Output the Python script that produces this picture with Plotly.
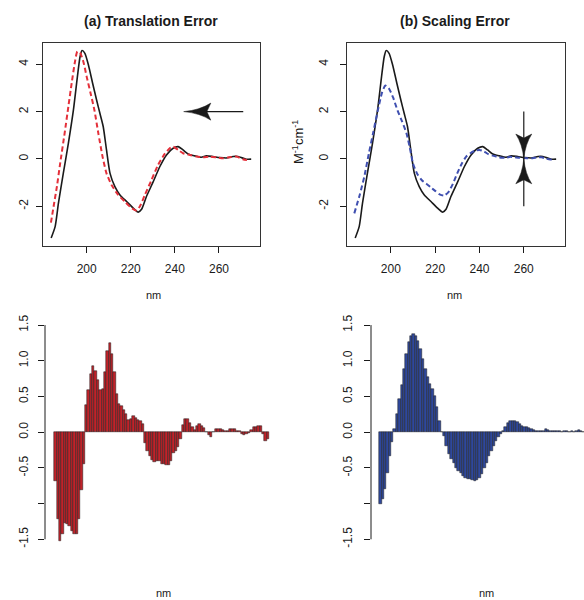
import plotly.graph_objects as go

# ---------------- data ----------------
black_nm = [183.9, 185.7, 187.2, 189.4, 191.7, 194.0, 195.8, 197.0, 197.9, 199.2, 200.8, 202.7,
            204.5, 206.0, 207.5, 209.0, 210.6, 212.8, 215.1, 218.1, 221.1, 223.4, 224.9, 227.1,
            230.2, 233.2, 236.2, 239.2, 241.5, 243.7, 246.0, 249.0, 252.0, 254.3, 257.3, 260.3,
            263.3, 266.4, 268.6, 272.4, 274.6]
black_val = [-3.34, -2.86, -1.87, -0.61, 0.66, 2.07, 3.48, 4.32, 4.58, 4.46, 3.97, 3.20,
             2.49, 1.93, 1.37, 0.38, -0.61, -1.17, -1.52, -1.80, -2.08, -2.25, -2.13, -1.59,
             -0.96, -0.32, 0.17, 0.45, 0.52, 0.38, 0.21, 0.13, 0.07, 0.13, 0.10, 0.06,
             0.04, 0.10, 0.10, -0.01, -0.01]

red_nm = [183.8, 185.0, 186.5, 188.0, 190.0, 191.7, 193.2, 194.7, 195.8, 197.0, 198.5, 200.0,
          201.8, 203.5, 205.3, 207.2, 209.0, 211.3, 214.3, 217.3, 220.4, 222.6, 224.1, 226.4,
          229.4, 232.4, 235.4, 237.7, 239.2, 241.5, 243.7, 246.8, 249.8, 252.8, 255.8, 258.8,
          261.8, 264.8, 267.8, 270.8, 273.8]
red_val = [-2.69, -2.01, -1.17, -0.18, 1.08, 2.21, 3.20, 4.11, 4.54, 4.49, 4.11, 3.48,
           2.77, 2.07, 1.08, 0.10, -0.61, -1.10, -1.52, -1.80, -2.08, -2.18, -2.01, -1.52,
           -0.89, -0.25, 0.21, 0.45, 0.52, 0.38, 0.24, 0.17, 0.10, 0.07, 0.10, 0.07,
           0.03, 0.07, 0.10, -0.01, -0.07]

blue_nm = [183.5, 186.0, 188.0, 190.0, 192.0, 194.0, 196.0, 197.5, 199.0, 201.0, 203.0, 205.0,
           207.0, 208.5, 210.0, 212.0, 214.0, 216.0, 218.0, 220.0, 222.0, 224.0, 226.0, 228.0,
           230.0, 232.0, 234.0, 236.0, 238.0, 240.0, 242.0, 244.0, 246.0, 248.0, 250.0, 252.0,
           254.0, 256.0, 258.0, 260.0, 262.0, 264.0, 266.0, 268.0, 270.0, 272.0, 274.0]
blue_val = [-2.30, -1.50, -0.75, 0.20, 1.10, 2.00, 2.80, 3.10, 3.00, 2.60, 2.05, 1.60,
            1.10, 0.50, -0.20, -0.65, -0.90, -1.05, -1.20, -1.35, -1.50, -1.55, -1.40, -1.05,
            -0.60, -0.20, 0.10, 0.25, 0.35, 0.38, 0.32, 0.20, 0.14, 0.10, 0.05, 0.05,
            0.09, 0.07, 0.05, 0.04, 0.03, 0.03, 0.06, 0.07, 0.01, -0.02, -0.01]

bar_nm = list(range(184, 275))
red_diff = [-0.68, -1.21, -1.53, -1.42, -1.27, -1.29, -1.31, -1.38, -1.43, -1.43, -1.21, -0.81, -0.45,
            0.38, 0.59, 0.81, 0.92, 0.86, 0.73, 0.59, 0.60, 0.84, 1.13, 1.25, 1.10, 0.84, 0.53,
            0.39, 0.36, 0.31, 0.25, 0.17, 0.19, 0.22, 0.20, 0.17, 0.15, 0.11,
            -0.15, -0.26, -0.34, -0.39, -0.42, -0.41, -0.41, -0.45, -0.45, -0.46, -0.46, -0.40,
            -0.29, -0.26, -0.21, -0.10,
            0.10, 0.18, 0.18, 0.13, 0.07, 0.03, 0.08, 0.12, 0.09, 0.06, 0.00, -0.04, -0.07,
            0.00, 0.05, 0.04, 0.05, 0.03, 0.01, 0.02, 0.04, 0.05, 0.04, 0.02, 0.01, -0.03,
            -0.04, -0.02, -0.01, 0.03, 0.07, 0.07, 0.08, 0.08, -0.02, -0.12, -0.10]
blue_diff = [-1.01, -0.94, -0.80, -0.57, -0.33, -0.14, 0.04, 0.25, 0.46, 0.66, 0.88, 1.09, 1.26,
             1.34, 1.38, 1.34, 1.28, 1.17, 1.02, 0.88, 0.77, 0.67, 0.60, 0.50, 0.35, 0.16, 0.00,
             -0.05, -0.19, -0.31, -0.38, -0.43, -0.50, -0.54, -0.57, -0.61, -0.64, -0.65, -0.66,
             -0.67, -0.68, -0.67, -0.64, -0.58, -0.50, -0.43, -0.34, -0.26, -0.19, -0.12, -0.07,
             -0.03,
             0.02, 0.07, 0.13, 0.15, 0.16, 0.16, 0.14, 0.11, 0.08, 0.07, 0.07, 0.06, 0.05, 0.03,
             0.02, 0.02, 0.01, 0.02, 0.04, 0.03, 0.02, 0.01, 0.01, 0.01, 0.01, 0.00, 0.01, 0.01,
             0.00, 0.01, 0.00, 0.01, 0.03, 0.01, 0.00, 0.00, 0.01, 0.00, 0.01]

top_yticks = [-2, 0, 2, 4]
top_yticktext = ["-2", "0", "2", "4"]
top_xticks = [200, 220, 240, 260]
bot_yticks = [-1.5, -1.0, -0.5, 0.0, 0.5, 1.0, 1.5]
bot_yticktext = ["-1.5", " ", "-0.5", "0.0", "0.5", "1.0", "1.5"]

titles = ["(a) Translation Error", "(b) Scaling Error"]
x_label = "nm"
y_label = "M<sup>-1</sup>cm<sup>-1</sup>"

# arrows (data coordinates)
arrow_a = dict(x_tail=271, x_tip=244, y=2.0)
arrow_b = dict(x=260, y_top=2.0, y_bot=-2.0, y_tip=0.0, head_len=1.05)

# ---------------- figure ----------------
W, H = 584, 600
FONT = "Liberation Sans, Arial, Helvetica, sans-serif"
INK = "#1a1a1a"

def px_x(a, b):
    return [a / W, b / W]

def px_y(top, bottom):
    return [1 - bottom / H, 1 - top / H]

fig = go.Figure()

line_black = dict(color=INK, width=1.6, shape="spline", smoothing=0.6)
fig.add_trace(go.Scatter(x=black_nm, y=black_val, mode="lines", line=line_black, xaxis="x", yaxis="y"))
fig.add_trace(go.Scatter(x=red_nm, y=red_val, mode="lines",
                         line=dict(color="#e4303a", width=2, dash="5px,3px", shape="spline", smoothing=0.6),
                         xaxis="x", yaxis="y"))
fig.add_trace(go.Scatter(x=black_nm, y=black_val, mode="lines", line=line_black, xaxis="x2", yaxis="y2"))
fig.add_trace(go.Scatter(x=blue_nm, y=blue_val, mode="lines",
                         line=dict(color="#3f4fb0", width=2, dash="5px,3px", shape="spline", smoothing=0.6),
                         xaxis="x2", yaxis="y2"))

fig.add_trace(go.Bar(x=bar_nm, y=red_diff, width=1.0, xaxis="x3", yaxis="y3",
                     marker=dict(color="#c0232a", line=dict(color=INK, width=0.5))))
fig.add_trace(go.Bar(x=bar_nm, y=blue_diff, width=1.0, xaxis="x4", yaxis="y4",
                     marker=dict(color="#2f489c", line=dict(color=INK, width=0.5))))

tickfont = dict(family=FONT, size=12, color=INK)
top_x = dict(range=[180.2, 278.6], tickvals=top_xticks, ticks="outside", ticklen=6, tickcolor=INK,
             showline=True, linecolor="#333", linewidth=1, mirror=True, showgrid=False, zeroline=False,
             tickfont=tickfont, ticklabelstandoff=6)

def top_y(standoff):
    return dict(range=[-3.68, 4.90], tickvals=top_yticks, ticktext=top_yticktext, ticks="outside",
                ticklen=6, tickcolor=INK, showline=True, linecolor="#333", linewidth=1, mirror=True,
                showgrid=False, zeroline=False, tickangle=-90, tickfont=tickfont,
                ticklabelstandoff=standoff)

def bot_y(standoff):
    return dict(range=[-1.636, 1.641], tickvals=bot_yticks, ticktext=bot_yticktext, ticks="outside",
                ticklen=6, tickcolor=INK, showline=False, showgrid=False, zeroline=False, tickangle=-90,
                tickfont=tickfont, ticklabelstandoff=standoff)

fig.update_layout(
    width=W, height=H, margin=dict(l=0, r=0, t=0, b=0),
    paper_bgcolor="white", plot_bgcolor="white", showlegend=False, bargap=0,
    font=dict(family=FONT, color=INK),
    xaxis=dict(domain=px_x(43, 260), anchor="y", **top_x),
    yaxis=dict(domain=px_y(43, 246), anchor="x", **top_y(3)),
    xaxis2=dict(domain=px_x(347, 565), anchor="y2", **top_x),
    yaxis2=dict(domain=px_y(43, 246), anchor="x2", **top_y(7)),
    xaxis3=dict(domain=px_x(45, 275), anchor="y3", range=[179.56, 277.0], visible=False),
    yaxis3=dict(domain=px_y(315, 549), anchor="x3", **bot_y(5)),
    xaxis4=dict(domain=px_x(371, 584), anchor="y4", range=[179.98, 270.2], visible=False),
    yaxis4=dict(domain=px_y(315, 549), anchor="x4", **bot_y(7)),
)

# bottom axis lines (from -1.5 to 1.5 only)
for ax in ("3", "4"):
    fig.add_shape(type="line", xref=f"x{ax} domain", yref=f"y{ax}", x0=0, x1=0,
                  y0=bot_yticks[0], y1=bot_yticks[-1], line=dict(color=INK, width=1))

def head_path(tip_x, tip_y, dir_x, dir_y, length, half, notch, sx, sy):
    def pt(u, w):
        return (tip_x + dir_x * u + (-dir_y) * w * sx, tip_y + dir_y * u + dir_x * w * sy)
    t = pt(0, 0)
    c1 = pt(0.6 * length, 0.18 * half)
    k1 = pt(length, half)
    n = pt(length - notch, 0)
    k2 = pt(length, -half)
    c2 = pt(0.6 * length, -0.18 * half)
    return (f"M{t[0]},{t[1]} Q{c1[0]},{c1[1]} {k1[0]},{k1[1]} L{n[0]},{n[1]} "
            f"L{k2[0]},{k2[1]} Q{c2[0]},{c2[1]} {t[0]},{t[1]} Z")

fig.add_shape(type="line", xref="x", yref="y", x0=arrow_a["x_tail"], x1=arrow_a["x_tip"] + 5,
              y0=arrow_a["y"], y1=arrow_a["y"], line=dict(color=INK, width=1.2))
fig.add_shape(type="path", xref="x", yref="y", fillcolor=INK, line=dict(color=INK, width=0.5),
              path=head_path(arrow_a["x_tip"], arrow_a["y"], 1, 0, 12.3, 0.36, 1.8, 0, 1))

fig.add_shape(type="line", xref="x2", yref="y2", x0=arrow_b["x"], x1=arrow_b["x"],
              y0=arrow_b["y_bot"], y1=arrow_b["y_top"], line=dict(color=INK, width=1.2))
for d in (1, -1):
    fig.add_shape(type="path", xref="x2", yref="y2", fillcolor=INK, line=dict(color=INK, width=0.5),
                  path=head_path(arrow_b["x"], arrow_b["y_tip"], 0, d, arrow_b["head_len"], 3.6, 0.17, -d, 0))

ann = []
for t, cx in zip(titles, (151, 455)):
    ann.append(dict(text=f"<b>{t}</b>", x=cx / W, y=1 - 21 / H, xref="paper", yref="paper",
                    xanchor="center", yanchor="middle",
                    showarrow=False, font=dict(family=FONT, size=14, color=INK)))
for cx, cy in ((153, 295), (454, 295), (163, 593), (486, 593)):
    ann.append(dict(text=x_label, x=cx / W, y=1 - cy / H, xref="paper", yref="paper",
                    xanchor="center", yanchor="middle",
                    showarrow=False, font=dict(family=FONT, size=11, color=INK)))
ann.append(dict(text=y_label, x=298 / W, y=1 - 142 / H, xref="paper", yref="paper", textangle=-90,
                xanchor="center", yanchor="middle",
                showarrow=False, font=dict(family=FONT, size=13, color=INK)))
fig.update_layout(annotations=ann)

fig.write_html("out.html", post_script="document.body.style.margin='0';",
               config={"displayModeBar": False})
